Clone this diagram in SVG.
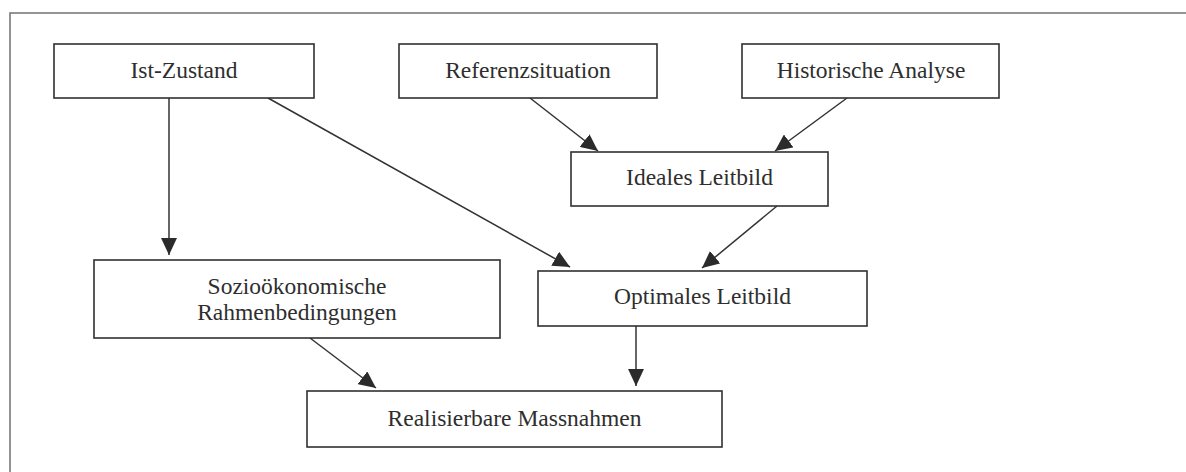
<svg xmlns="http://www.w3.org/2000/svg" width="1186" height="472" viewBox="0 0 1186 472">
  <style>
    .box { fill: #ffffff; stroke: #303030; stroke-width: 1.6; }
    .lbl { font-family: "Liberation Serif", "Times New Roman", serif; font-size: 23.5px; fill: #2e2e2e; text-anchor: middle; }
    .edge { stroke: #333333; stroke-width: 1.5; fill: none; marker-end: url(#arr); }
  </style>
  <defs>
    <marker id="arr" viewBox="0 0 17 16" refX="17" refY="8" markerWidth="17" markerHeight="16" markerUnits="userSpaceOnUse" orient="auto">
      <path d="M0,0 L17,8 L0,16 Z" fill="#2b2b2b"/>
    </marker>
  </defs>
  <rect x="0" y="0" width="1186" height="472" fill="#ffffff"/>
  <rect id="frame" x="10" y="13" width="1200" height="500" fill="none" stroke="#7a7a7a" stroke-width="1.6"/>

  <g id="connectors">
    <line class="edge" x1="169" y1="98" x2="169" y2="255"/>
    <line class="edge" x1="268" y1="98" x2="570" y2="267"/>
    <line class="edge" x1="530" y1="98" x2="598" y2="151"/>
    <line class="edge" x1="847" y1="98" x2="775" y2="151"/>
    <line class="edge" x1="777" y1="206" x2="702" y2="268"/>
    <line class="edge" x1="310" y1="338" x2="376" y2="388"/>
    <line class="edge" x1="636" y1="326" x2="636" y2="386"/>
  </g>

  <g id="ist-zustand">
    <rect class="box" x="54" y="44" width="260" height="54"/>
    <text class="lbl" x="184" y="78">Ist-Zustand</text>
  </g>
  <g id="referenzsituation">
    <rect class="box" x="399" y="44" width="258" height="54"/>
    <text class="lbl" x="528" y="78">Referenzsituation</text>
  </g>
  <g id="historische-analyse">
    <rect class="box" x="742" y="44" width="257" height="54"/>
    <text class="lbl" x="871" y="78">Historische Analyse</text>
  </g>
  <g id="ideales-leitbild">
    <rect class="box" x="571" y="152" width="257" height="54"/>
    <text class="lbl" x="699.5" y="185">Ideales Leitbild</text>
  </g>
  <g id="sozio">
    <rect class="box" x="94" y="260" width="406" height="78"/>
    <text class="lbl" x="297" y="294">Sozioökonomische</text>
    <text class="lbl" x="297" y="320">Rahmenbedingungen</text>
  </g>
  <g id="optimales-leitbild">
    <rect class="box" x="538" y="271" width="329" height="55"/>
    <text class="lbl" x="702.5" y="304">Optimales Leitbild</text>
  </g>
  <g id="realisierbare-massnahmen">
    <rect class="box" x="307" y="391" width="415" height="56"/>
    <text class="lbl" x="514.5" y="426">Realisierbare Massnahmen</text>
  </g>
</svg>
